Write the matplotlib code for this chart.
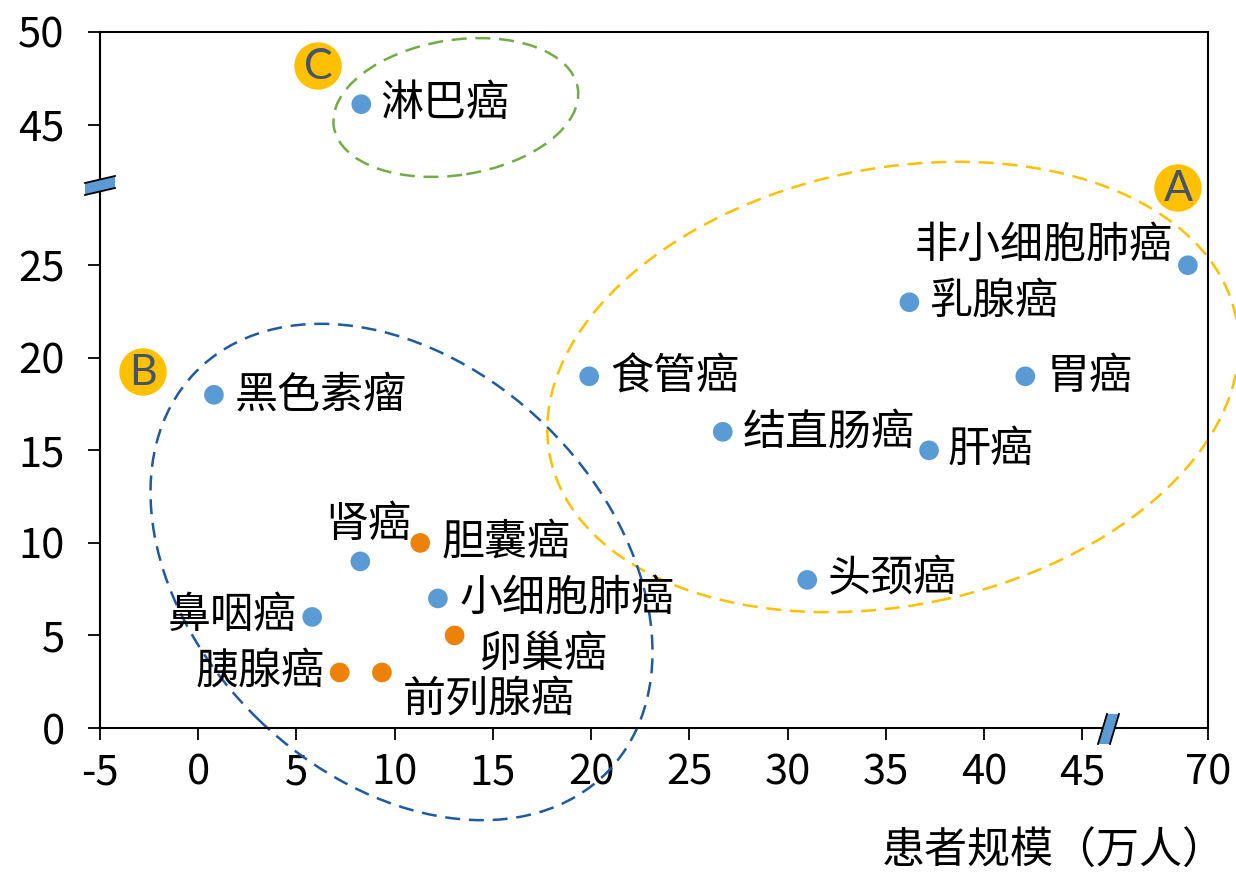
import numpy as np
import matplotlib.pyplot as plt
from matplotlib.patches import Ellipse, Circle, Polygon
from matplotlib.lines import Line2D

plt.rcParams['font.family'] = ['Noto Sans CJK SC', 'DejaVu Sans']
plt.rcParams['axes.unicode_minus'] = False

# --------- DATOS ---------
nombres = ['淋巴癌', '非小细胞肺癌', '乳腺癌', '胃癌', '食管癌', '结直肠癌', '肝癌', '头颈癌',
           '黑色素瘤', '肾癌', '胆囊癌', '小细胞肺癌', '鼻咽癌', '卵巢癌', '胰腺癌', '前列腺癌']
pacientes = [8.3, 66, 36.2, 42.1, 19.9, 26.7, 37.2, 31.0,
             0.8, 8.25, 11.3, 12.2, 5.8, 13.05, 7.2, 9.35]
valores = [46.1, 25, 23, 19, 19, 16, 15, 8,
           18, 9, 10, 7, 6, 5, 3, 3]
grupo = ['b', 'b', 'b', 'b', 'b', 'b', 'b', 'b',
         'b', 'b', 'o', 'b', 'b', 'o', 'o', 'o']

xticks = [-5, 0, 5, 10, 15, 20, 25, 30, 35, 40, 45, 70]
yticks = [0, 5, 10, 15, 20, 25, 45, 50]
titulo_x = '患者规模（万人）'

# posicion de cada etiqueta (pixeles de desplazamiento, alineacion)
etiquetas = {
    '淋巴癌': (19, 0, 'left'), '非小细胞肺癌': (-15, 19, 'right'), '乳腺癌': (20, 0, 'left'),
    '胃癌': (21, -1, 'left'), '食管癌': (21, -1, 'left'), '结直肠癌': (20, -1, 'left'),
    '肝癌': (19, 0, 'left'), '头颈癌': (20, 1, 'left'), '黑色素瘤': (21, -1, 'left'),
    '肾癌': (8, 36, 'center'), '胆囊癌': (21, 0, 'left'), '小细胞肺癌': (22, 0, 'left'),
    '鼻咽癌': (-15, 1, 'right'), '卵巢癌': (23, -19, 'left'), '胰腺癌': (-15, 1, 'right'),
    '前列腺癌': (21, -27, 'left'),
}

colores = {'b': '#5B9BD5', 'o': '#EE8208'}


# --------- ESCALAS CON CORTE ---------
def fwd_x(x):
    return np.interp(x, [-100, 45, 70, 500], [-100, 45, 51.4, 51.4 + 430 * 0.256])


def inv_x(d):
    return np.interp(d, [-100, 45, 51.4, 51.4 + 430 * 0.256], [-100, 45, 70, 500])


def fwd_y(y):
    return np.interp(y, [-100, 25, 45, 500], [-100, 25, 32.6, 32.6 + 455])


def inv_y(d):
    return np.interp(d, [-100, 25, 32.6, 32.6 + 455], [-100, 25, 45, 500])


W, H = 1236, 872


def px(x, y):
    # pixeles de la imagen -> pulgadas de la figura
    return (x / 100, (H - y) / 100)


fig = plt.figure(figsize=(W / 100, H / 100), dpi=100)
ax = fig.add_axes([100 / W, 1 - 728 / H, 1108 / W, 696 / H])
ax.set_xscale('function', functions=(fwd_x, inv_x))
ax.set_yscale('function', functions=(fwd_y, inv_y))
ax.set_xlim(-5, 70)
ax.set_ylim(0, 50)
ax.set_xticks(xticks)
ax.set_xticklabels([str(t) for t in xticks])
ax.set_yticks(yticks)
ax.set_yticklabels([str(t) for t in yticks])
ax.minorticks_off()
ax.tick_params(direction='out', length=8.5, width=1.3, labelsize=30, color='black')
ax.tick_params(axis='x', pad=9)
ax.tick_params(axis='y', pad=17)
for s in ax.spines.values():
    s.set_linewidth(1.5)
    s.set_color('black')

# puntos
cols = [colores[g] for g in grupo]
ax.scatter(pacientes, valores, s=200, c=cols, zorder=3, linewidths=0)

for nombre, xv, yv in zip(nombres, pacientes, valores):
    dx, dy, ha = etiquetas[nombre]
    ax.annotate(nombre, (xv, yv), xytext=(dx, dy), textcoords='offset pixels',
                ha=ha, va='center', fontsize=31, color='black', zorder=4)

# elipses de grupos
tr = fig.dpi_scale_trans
elipses = [
    ((893, 387), 700, 437, 11.5, '#FFC000'),
    ((401.5, 572), 574, 411, -44, '#1F5AA0'),
    ((455.8, 107.5), 247, 135, 9, '#70AD47'),
]
for c, w, h, ang, col in elipses:
    e = Ellipse(px(*c), w / 100, h / 100, angle=ang, transform=tr, fill=False,
                edgecolor=col, lw=1.8, ls=(0, (6, 3.5)), clip_on=False, zorder=2)
    ax.add_artist(e)

# insignias A, B, C
insignias = [('A', 1178, 188), ('B', 143, 372), ('C', 318, 66)]
for letra, bx, by in insignias:
    ax.add_artist(Circle(px(bx, by), 0.23, transform=tr, color='#FFC000',
                         clip_on=False, zorder=5))
    ax.text(*px(bx, by + 1), letra, transform=tr, ha='center', va='center',
            fontsize=31, color='#44546A', family=['Lato', 'DejaVu Sans'], zorder=6)

# marcas de corte de ejes
corte_y = [(85, 183), (115, 176), (115, 188), (85, 195)]
corte_x = [(1107, 714), (1119, 714), (1110, 744), (1098, 744)]
for pts, lineas in [(corte_y, [(0, 1), (3, 2)]), (corte_x, [(0, 3), (1, 2)])]:
    ax.add_artist(Polygon([px(*p) for p in pts], closed=True, transform=tr,
                          facecolor='#5B9BD5', edgecolor='none', clip_on=False, zorder=7))
    for i, j in lineas:
        (x0, y0), (x1, y1) = px(*pts[i]), px(*pts[j])
        ax.add_artist(Line2D([x0, x1], [y0, y1], transform=tr, color='black',
                             lw=1.3, clip_on=False, zorder=8))

fig.text(1226 / W, 1 - 852 / H, titulo_x, ha='right', va='center', fontsize=31)

fig.savefig('out.png', dpi=100)
